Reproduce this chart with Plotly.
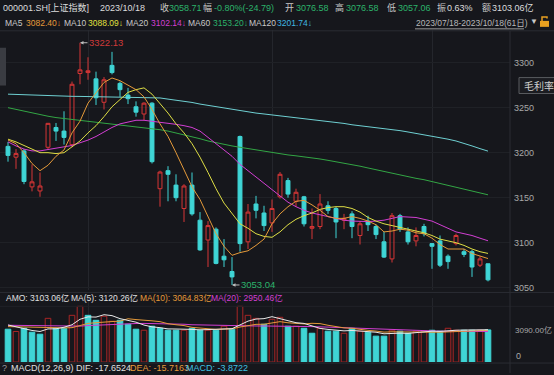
import plotly.graph_objects as go

# ---------------- data ----------------
dates = ["2023-07-18", "2023-07-19", "2023-07-20", "2023-07-21", "2023-07-24", "2023-07-25", "2023-07-26",
         "2023-07-27", "2023-07-28", "2023-07-31", "2023-08-01", "2023-08-02", "2023-08-03", "2023-08-04",
         "2023-08-07", "2023-08-08", "2023-08-09", "2023-08-10", "2023-08-11", "2023-08-14", "2023-08-15",
         "2023-08-16", "2023-08-17", "2023-08-18", "2023-08-21", "2023-08-22", "2023-08-23", "2023-08-24",
         "2023-08-25", "2023-08-28", "2023-08-29", "2023-08-30", "2023-08-31", "2023-09-01", "2023-09-04",
         "2023-09-05", "2023-09-06", "2023-09-07", "2023-09-08", "2023-09-11", "2023-09-12", "2023-09-13",
         "2023-09-14", "2023-09-15", "2023-09-18", "2023-09-19", "2023-09-20", "2023-09-21", "2023-09-22",
         "2023-09-25", "2023-09-26", "2023-09-27", "2023-09-28", "2023-10-09", "2023-10-10", "2023-10-11",
         "2023-10-12", "2023-10-13", "2023-10-16", "2023-10-17", "2023-10-18"]

opens = [3207, 3195, 3202, 3162, 3157.5, 3206, 3228, 3224, 3209, 3288, 3289, 3282, 3256, 3297, 3277, 3264,
         3251, 3243, 3255, 3160, 3180, 3164, 3138, 3164, 3125, 3103, 3115, 3085, 3068, 3218, 3101, 3143,
         3133, 3122, 3151, 3169, 3146, 3151, 3116, 3118, 3141, 3138, 3125, 3132, 3108, 3124, 3118, 3101,
         3082, 3130, 3112, 3102, 3118, 3099, 3102, 3085, 3099, 3090, 3090, 3075, 3076.58]
highs = [3212, 3204, 3204, 3187, 3178, 3233, 3233, 3246, 3279, 3322.13, 3306, 3290, 3284, 3312, 3279, 3272,
         3257, 3256, 3256, 3180, 3185, 3176, 3165, 3178, 3134, 3124, 3117, 3104, 3084, 3219, 3143, 3152,
         3141, 3148, 3178.5, 3172, 3160, 3152, 3138, 3154, 3146, 3140, 3132, 3135, 3124, 3130, 3120, 3112,
         3133, 3132, 3117, 3117, 3121, 3099, 3108, 3087, 3110, 3093, 3092, 3085, 3076.58]
lows = [3190, 3182, 3165, 3157, 3151, 3204, 3213, 3209, 3206, 3276, 3281, 3253, 3248, 3287, 3262, 3254,
        3240, 3236, 3188, 3140, 3146, 3146, 3123, 3130, 3091, 3073, 3076, 3073, 3053.04, 3090, 3093, 3127,
        3113, 3112, 3149, 3150, 3140, 3118, 3104, 3115, 3132, 3105, 3115, 3105, 3098, 3113, 3104, 3083,
        3078, 3112, 3098, 3096, 3107, 3071, 3073, 3071, 3097, 3084, 3062, 3073, 3057.06]
closes = [3197, 3199, 3168, 3167.6, 3163, 3232.6, 3224, 3217, 3276, 3292, 3291, 3261, 3281, 3289, 3270, 3260,
          3245, 3255, 3190, 3178.5, 3176, 3150, 3163, 3132, 3092, 3119, 3077, 3081, 3062, 3099, 3134, 3136,
          3119, 3138, 3176, 3154, 3156, 3121, 3118, 3143, 3136, 3123, 3127, 3118, 3121, 3120, 3109, 3084,
          3130, 3115, 3101, 3108, 3110, 3096, 3075, 3079, 3108, 3087, 3073, 3082, 3058.71]
prev_close = 3205.0

ma5 = [3214, 3210, 3200, 3188, 3180, 3186, 3196, 3203, 3222, 3235, 3255, 3266, 3278, 3283, 3280, 3275,
       3270, 3262, 3248, 3232, 3218, 3200, 3180, 3162, 3148, 3128, 3110, 3096, 3086, 3089, 3091, 3097,
       3104, 3121, 3132, 3140, 3146, 3147, 3142, 3136, 3129, 3127, 3127, 3129, 3127, 3124, 3120, 3112,
       3113, 3115, 3114, 3111, 3110, 3105, 3098, 3093, 3093, 3093, 3088, 3085, 3082.40]
ma10 = [3215, 3212, 3208, 3204, 3200, 3200, 3199, 3200, 3206, 3213, 3222, 3230, 3240, 3251, 3259, 3267,
        3270, 3272, 3265, 3255, 3244, 3232, 3222, 3210, 3195, 3178, 3160, 3144, 3132, 3121, 3116, 3110,
        3107, 3106, 3112, 3120, 3126, 3130, 3133, 3137, 3139, 3140, 3140, 3138, 3134, 3128, 3124, 3121,
        3119, 3117, 3115, 3113, 3111, 3108, 3104, 3102, 3100, 3097, 3093, 3090, 3088.09]
ma20 = [3212, 3207.5, 3204, 3202, 3202, 3203.5, 3205, 3206, 3208, 3211, 3214, 3218, 3223, 3228, 3232, 3234,
        3236, 3236, 3235, 3234, 3233, 3231.5, 3230, 3228, 3224, 3217, 3210, 3203, 3196, 3187, 3180, 3172,
        3165, 3159, 3151, 3145, 3140, 3136, 3133, 3131, 3129, 3127, 3125, 3124, 3123.5, 3123.5, 3124, 3125,
        3127, 3129, 3128.5, 3128, 3126, 3124, 3120, 3116, 3112, 3110, 3108, 3105, 3102.14]
ma60 = [3250, 3248, 3246, 3244, 3242, 3240.5, 3239, 3238, 3237, 3236, 3235, 3234, 3233, 3232, 3231, 3230,
        3229, 3228, 3227, 3225.5, 3224, 3222, 3220, 3218, 3215.5, 3213, 3211, 3209, 3207.5, 3206, 3204.5,
        3203, 3201.5, 3200, 3198.5, 3197.5, 3196.5, 3195.5, 3194.5, 3193, 3191.5, 3190, 3188, 3186.5, 3185,
        3183, 3181, 3179, 3177, 3175, 3173, 3171.5, 3170, 3168, 3166, 3164, 3162, 3160, 3157.5, 3155.5, 3153.20]
ma120 = [3265, 3264.6, 3264.3, 3264, 3263.7, 3263.4, 3263.1, 3262.8, 3262.6, 3262.5, 3262.4, 3262.3, 3262.2,
         3262.1, 3262.0, 3262.0, 3261.8, 3261.5, 3261.2, 3260.8, 3259.5, 3258.5, 3257.2, 3255.8, 3254, 3252.5,
         3251, 3249.5, 3248, 3246.5, 3245, 3244, 3243, 3242, 3241, 3240, 3239, 3238, 3237, 3236, 3235, 3234,
         3232.5, 3231, 3230, 3228.5, 3227.5, 3226.5, 3225.5, 3224.5, 3223, 3221.5, 3220, 3218.5, 3217, 3215,
         3213, 3210.5, 3207.5, 3204.5, 3201.74]

amo = [3170, 2950, 3260, 2880, 2690, 4220, 3260, 3260, 4510, 5380, 4510, 4030, 4420, 3940, 4030, 3650,
       3170, 3070, 3460, 3260, 3070, 3070, 3070, 3260, 3070, 3070, 3070, 3460, 3170, 5380, 4510, 4220,
       3650, 4130, 4320, 3460, 3460, 3260, 2780, 3260, 2980, 2980, 2780, 3260, 2980, 2880, 2500, 2500,
       3070, 2980, 2780, 2980, 2980, 3070, 2980, 3260, 3070, 3070, 3070, 3070, 3103.06]
amo_ma5 = [3580, 3400, 3200, 3050, 2950, 3200, 3210, 3360, 3600, 4130, 4360, 4340, 4570, 4480, 4190, 4010,
           3850, 3570, 3400, 3320, 3200, 3190, 3190, 3150, 3110, 3120, 3110, 3190, 3220, 3620, 3950, 4150,
           4190, 4380, 4170, 3950, 3800, 3730, 3460, 3250, 3150, 3050, 3010, 3050, 3000, 2980, 2880, 2730,
           2790, 2790, 2770, 2860, 2960, 2980, 2960, 3050, 3070, 3090, 3090, 3100, 3120.26]
amo_ma10 = [3420, 3400, 3380, 3350, 3320, 3330, 3320, 3300, 3320, 3550, 3730, 3800, 3880, 3910, 3950, 4180,
            4100, 4070, 3980, 3900, 3700, 3600, 3520, 3350, 3260, 3220, 3150, 3190, 3200, 3380, 3530, 3640,
            3650, 3800, 3900, 3790, 3710, 3680, 3740, 3710, 3550, 3430, 3300, 3260, 3130, 3060, 2990, 2890,
            2920, 2900, 2880, 2920, 2870, 2880, 2880, 2920, 2960, 3000, 3030, 3050, 3064.83]
amo_ma20 = [3550, 3540, 3520, 3500, 3480, 3470, 3460, 3450, 3450, 3470, 3520, 3560, 3600, 3630, 3650, 3700,
            3720, 3730, 3720, 3720, 3700, 3680, 3650, 3600, 3580, 3560, 3520, 3500, 3480, 3480, 3480, 3480,
            3480, 3480, 3490, 3480, 3460, 3440, 3420, 3400, 3380, 3350, 3320, 3290, 3260, 3230, 3200, 3170,
            3150, 3120, 3080, 3050, 3020, 2990, 2980, 2970, 2960, 2955, 2950, 2950, 2950.46]

price_ticks = [3050, 3100, 3150, 3200, 3250, 3300]
month_starts = ["2023-08-01", "2023-09-01", "2023-10-09"]
amo_tick_label = "3090.00亿"

# ---------------- styling ----------------
W, H = 554, 375
BG = "#16171c"
RED = "#d63636"
RED_VOL = "#a82626"
CYAN = "#3fd5d5"
GREEN_TXT = "#2cb36b"
C_MA5, C_MA10, C_MA20, C_MA60, C_MA120 = "#e59a3a", "#dede45", "#d23fd2", "#33a645", "#6fd0d2"
GRID = "#1f2126"
SEP = "#2b2d33"
FONT = "Liberation Sans, Noto Sans CJK SC, sans-serif"
FS = 8.5


def px(x):
    return x / W


def py(y):
    return 1 - y / H


fig = go.Figure()

# price candles
fig.add_trace(go.Candlestick(
    x=dates, open=opens, high=highs, low=lows, close=closes,
    increasing=dict(line=dict(color=RED, width=1), fillcolor="rgba(0,0,0,0)"),
    decreasing=dict(line=dict(color=CYAN, width=1), fillcolor=CYAN),
    whiskerwidth=0, hoverinfo="skip", xaxis="x", yaxis="y", showlegend=False))

for vals, col in [(ma120, C_MA120), (ma60, C_MA60), (ma20, C_MA20), (ma10, C_MA10), (ma5, C_MA5)]:
    fig.add_trace(go.Scatter(x=dates, y=vals, mode="lines", line=dict(color=col, width=1),
                             hoverinfo="skip", showlegend=False, xaxis="x", yaxis="y"))

# volume bars
prevs = [prev_close] + closes[:-1]
up = [c >= p for c, p in zip(closes, prevs)]
fig.add_trace(go.Bar(
    x=dates, y=amo, width=0.7,
    marker=dict(color=["rgba(0,0,0,0)" if u else CYAN for u in up],
                line=dict(color=[RED_VOL if u else CYAN for u in up], width=1)),
    hoverinfo="skip", showlegend=False, xaxis="x2", yaxis="y2"))
for vals, col in [(amo_ma20, "#d23fd2"), (amo_ma10, "#e59a3a"), (amo_ma5, "#e8e8e8")]:
    fig.add_trace(go.Scatter(x=dates, y=vals, mode="lines", line=dict(color=col, width=1),
                             hoverinfo="skip", showlegend=False, xaxis="x2", yaxis="y2"))

# axes geometry
x_dom = [0, px(510)]
x_rng = [-1, 62.75]
price_top = 3300 + (63 - 30) / 0.905
price_bot = 3300 - (292 - 63) / 0.905

fig.update_layout(
    width=W, height=H, margin=dict(l=0, r=0, t=0, b=0),
    paper_bgcolor=BG, plot_bgcolor=BG, bargap=0.3,
    font=dict(family=FONT, size=FS, color="#b0b0b0"),
    xaxis=dict(domain=x_dom, range=x_rng, type="category", rangeslider=dict(visible=False),
               tickvals=month_starts, showticklabels=False, ticks="", showgrid=True,
               gridcolor="#24262c", zeroline=False, showline=False, anchor="y"),
    yaxis=dict(domain=[py(292), py(30)], range=[price_bot, price_top], side="right",
               tickvals=price_ticks, ticks="", showgrid=True, gridcolor=GRID, zeroline=False,
               tickfont=dict(color="#a8a8a8", size=9, family=FONT), ticklabelstandoff=3, anchor="x"),
    xaxis2=dict(domain=x_dom, range=x_rng, type="category", tickvals=month_starts,
                showticklabels=False, ticks="", showgrid=True, gridcolor="#24262c",
                zeroline=False, anchor="y2"),
    yaxis2=dict(domain=[py(364), py(300)], range=[0, 64 * 96], showticklabels=False,
                showgrid=False, zeroline=False, anchor="x2"),
)

ann = []


def txt(x, y, s, color="#d8d8d8", size=FS, anchor="left"):
    ann.append(dict(x=px(x), y=py(y), xref="paper", yref="paper", text=s, showarrow=False,
                    xanchor=anchor, yanchor="middle", borderpad=0,
                    font=dict(color=color, size=size, family=FONT)))


# header row 1
GREY = "#c8c8c8"
txt(2, 8, "000001.SH[上证指数]", "#dcdcdc", size=9)
txt(99, 8, "2023/10/18", "#dcdcdc", size=9)
txt(159, 8, "收", GREY, size=9)
txt(168, 8, f"{closes[-1]:.2f}", GREEN_TXT, size=9)
txt(202, 8, "幅", GREY, size=9)
txt(213, 8, "-0.80%(-24.79)", GREEN_TXT, size=9)
txt(284, 8, "开", GREY, size=9)
txt(295, 8, f"{opens[-1]:.2f}", GREEN_TXT, size=9)
txt(334, 8, "高", GREY, size=9)
txt(345, 8, f"{highs[-1]:.2f}", GREEN_TXT, size=9)
txt(386, 8, "低", GREY, size=9)
txt(397, 8, f"{lows[-1]:.2f}", GREEN_TXT, size=9)
txt(436, 8, "振", GREY, size=9)
txt(446, 8, "0.63%", "#dcdcdc", size=9)
txt(481, 8, "额", GREY, size=9)
txt(491, 8, "3103.06亿", "#dcdcdc", size=9)

# header row 2
txt(4, 23, "MA5", GREY)
txt(25, 23, f"{ma5[-1]:.2f}↓", C_MA5)
txt(63, 23, "MA10", GREY)
txt(87, 23, f"{ma10[-1]:.2f}↓", "#e0e040")
txt(125, 23, "MA20", GREY)
txt(150, 23, f"{ma20[-1]:.2f}↓", "#d23fd2")
txt(187, 23, "MA60", GREY)
txt(212, 23, f"{ma60[-1]:.2f}↓", GREEN_TXT)
txt(248, 23, "MA120", GREY)
txt(276, 23, f"{ma120[-1]:.2f}↓", "#3fb6e0")
txt(415, 23, "2023/07/18-2023/10/18(61日)", "#b8b8b8", size=8.5)
txt(529, 22, "▼", "#c8c8c8", size=8)

# volume header
txt(5, 300, "AMO: 3103.06亿", "#e0e0e0", size=8.5)
txt(70, 300, "MA(5): 3120.26亿", "#e0e0e0", size=8.5)
txt(139, 300, "MA(10): 3064.83亿", "#e59a3a", size=8.5)
txt(210, 300, "MA(20): 2950.46亿", "#d23fd2", size=8.5)

# MACD header
txt(1, 370, "?", "#9a9a9a", size=9)
txt(10, 370, "MACD(12,26,9) DIF: -17.6524", "#e0e0e0", size=9)
txt(129, 370, "DEA: -15.7163", "#e59a3a", size=9)
txt(185, 370, "MACD: -3.8722", "#3fc0e0", size=9)

# volume axis labels
txt(514, 332, amo_tick_label, "#a8a8a8", size=8)
txt(515, 358, "0", "#a8a8a8", size=9)

# 毛利率 box
txt(523, 86, "毛利率", "#d0d0d0", size=10)

# high / low markers
i_hi = highs.index(max(highs))
i_lo = lows.index(min(lows))
for i, v, col in [(i_hi, highs[i_hi], "#d03a3a"), (i_lo, lows[i_lo], GREEN_TXT)]:
    ann.append(dict(x=dates[i], y=v, xref="x", yref="y", text="", showarrow=True, ax=9, ay=0,
                    arrowhead=2, arrowsize=0.7, arrowwidth=1, arrowcolor="#bdbdbd"))
    ann.append(dict(x=dates[i], y=v, xref="x", yref="y", text=f"{v:.2f}", showarrow=False,
                    xanchor="left", yanchor="middle", xshift=8, borderpad=0,
                    font=dict(color=col, size=9.5, family=FONT)))

fig.update_layout(annotations=ann)

# shapes: separators, boxes, icons
shapes = [
    dict(type="line", xref="paper", yref="paper", x0=0, x1=1, y0=py(31), y1=py(31), line=dict(color=SEP, width=1)),
    dict(type="line", xref="paper", yref="paper", x0=0, x1=1, y0=py(294), y1=py(294), line=dict(color=SEP, width=1)),
    dict(type="line", xref="paper", yref="paper", x0=0, x1=1, y0=py(308), y1=py(308), line=dict(color="#202227", width=1)),
    dict(type="line", xref="paper", yref="paper", x0=0, x1=1, y0=py(365), y1=py(365), line=dict(color=SEP, width=1)),
    dict(type="line", xref="paper", yref="paper", x0=px(510), x1=px(510), y0=py(31), y1=0, line=dict(color=SEP, width=1)),
    dict(type="rect", xref="paper", yref="paper", x0=px(519), x1=px(556), y0=py(94), y1=py(78),
         line=dict(color="#5a5c60", width=1), fillcolor="#1b1c21", layer="below"),
    dict(type="rect", xref="paper", yref="paper", x0=0, x1=px(6), y0=py(86), y1=py(48),
         line=dict(width=0), fillcolor="#3a3c42"),
    dict(type="line", xref="paper", yref="paper", x0=px(415), x1=px(524), y0=py(29), y1=py(29),
         line=dict(color="#9a9a9a", width=1)),
    dict(type="rect", xref="paper", yref="paper", x0=px(540), x1=px(549), y0=py(27), y1=py(21),
         line=dict(width=0), fillcolor="#e8a020"),
    dict(type="path", xref="paper", yref="paper",
         path=f"M {px(542)} {py(21)} L {px(542)} {py(17)} L {px(547)} {py(17)} L {px(547)} {py(18.5)}",
         line=dict(color="#e8a020", width=1.5)),
]
fig.update_layout(shapes=shapes)

fig.write_html("out.html", config={"displayModeBar": False},
               post_script="document.body.style.margin='0px';document.body.style.overflow='hidden';")
